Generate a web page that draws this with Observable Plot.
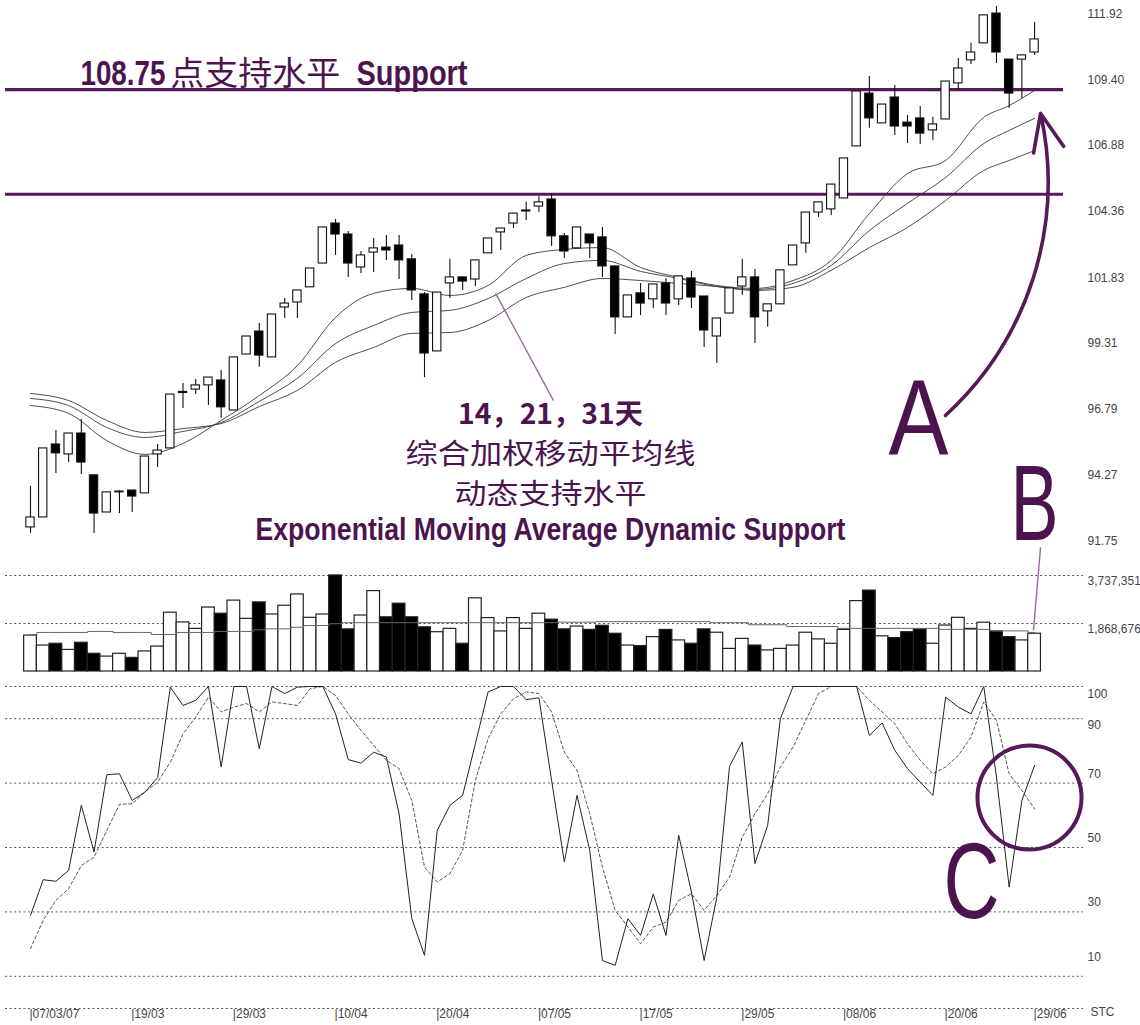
<!DOCTYPE html>
<html><head><meta charset="utf-8">
<script src="https://cdn.jsdelivr.net/npm/d3@7"></script>
<script src="https://cdn.jsdelivr.net/npm/@observablehq/plot@0.6"></script>
<style>
body{margin:0;background:#fff;}
#chart{width:1140px;height:1025px;overflow:hidden;background:#fff;}
#chart svg{display:block;}
</style></head><body><div id="chart"></div>
<script>
// ---------- data ----------
const tickIdx = [0,8,16,24,32,40,48,56,64,72,79];
const tickLabels = ["07/03/07","19/03","29/03","10/04","20/04","07/05","17/05","29/05","08/06","20/06","29/06"];

const open = [92.28,92.66,95.45,95.07,95.87,94.27,92.85,93.62,93.69,93.58,95.07,95.30,97.42,97.55,97.71,97.90,96.75,98.89,99.77,98.78,
100.69,100.88,101.46,102.37,103.90,103.48,102.22,102.79,102.98,103.06,102.53,101.19,99.01,101.61,101.84,101.76,102.76,103.56,103.90,104.36,
104.55,104.82,103.41,102.95,103.48,103.37,102.26,100.31,101.23,101.00,101.61,101.00,101.80,101.11,99.58,100.46,101.49,101.84,100.54,100.81,
102.30,103.14,104.32,104.44,104.86,106.85,108.87,107.73,108.72,107.76,107.92,107.46,107.88,109.26,110.14,110.79,111.93,110.17,110.17,110.44];
const high = [93.85,95.30,95.99,95.87,96.41,94.27,93.62,93.69,93.69,94.99,95.45,97.36,97.78,97.94,98.01,98.28,98.78,99.58,100.08,100.42,
101.03,101.34,102.18,103.75,104.06,103.60,102.83,103.33,103.44,103.44,102.72,101.26,101.26,102.53,101.84,102.49,103.33,103.71,104.28,104.71,
104.93,105.05,103.52,103.75,103.48,103.75,102.26,101.15,101.61,101.57,101.80,101.88,102.07,101.11,100.27,101.42,102.53,102.14,100.81,102.11,
103.06,104.32,104.71,105.39,106.39,108.95,109.52,108.45,109.18,108.03,108.38,107.96,109.33,110.21,110.79,111.86,112.20,110.17,110.33,111.59];
const low = [92.05,92.66,94.34,94.76,94.30,92.05,92.85,92.81,92.85,93.58,94.57,95.30,96.83,97.36,96.94,96.45,96.75,98.89,98.40,98.78,
100.27,100.27,101.46,102.37,102.68,101.84,101.99,102.03,102.49,101.76,100.96,98.01,99.01,101.03,101.34,101.49,102.76,102.87,103.71,104.02,
104.32,103.02,102.56,102.95,102.56,101.84,99.66,100.31,100.38,100.65,100.38,100.77,100.65,99.16,98.55,100.46,101.15,99.31,99.93,100.81,
102.30,102.76,104.13,104.21,104.86,106.85,107.54,107.73,107.27,106.96,106.92,107.08,107.88,108.99,109.98,110.79,110.02,108.30,108.68,110.33];
const close = [92.66,95.30,95.11,95.87,94.76,92.81,93.62,93.65,93.46,94.99,95.22,97.36,97.46,97.71,98.01,96.87,98.78,99.58,98.85,100.42,
100.84,101.34,102.18,103.75,103.48,102.37,102.68,102.95,102.87,102.49,101.34,98.93,101.26,101.84,101.68,102.49,103.33,103.71,104.28,104.40,
104.71,103.41,102.83,103.75,103.14,102.26,100.31,101.15,100.84,101.57,100.84,101.88,101.07,99.81,100.27,101.42,101.84,100.31,100.81,102.11,
103.06,104.32,104.71,105.39,106.39,108.95,107.92,108.45,107.61,107.61,107.34,107.69,109.33,109.83,110.44,111.86,110.44,108.87,110.33,110.94];

// volume in millions
const volume = [1.40,1.01,1.08,0.84,1.12,0.69,0.58,0.69,0.53,0.78,0.97,2.29,1.91,1.66,2.49,2.25,2.76,2.05,2.69,2.22,
2.56,3.00,2.09,2.22,3.74,1.64,2.18,3.13,2.11,2.64,2.11,1.72,1.53,1.66,1.08,2.85,2.08,1.56,2.08,1.66,
2.25,2.02,1.64,1.75,1.62,1.78,1.47,1.01,0.99,1.34,1.62,1.21,1.08,1.64,1.51,0.88,1.27,1.01,0.82,0.88,
1.01,1.51,1.25,1.08,1.62,2.74,3.15,1.37,1.30,1.53,1.64,1.08,1.79,2.09,1.66,1.90,1.56,1.34,1.21,1.47];
const volumeAvg = [1.44,1.52,1.52,1.52,1.52,1.56,1.56,1.52,1.52,1.52,1.44,1.44,1.52,1.52,1.52,1.56,1.56,1.56,1.62,1.66,
1.66,1.72,1.79,1.79,1.86,1.90,1.90,1.90,1.90,1.90,1.90,1.90,1.90,1.90,1.90,1.90,1.90,1.90,1.90,1.90,
1.90,1.90,1.92,1.92,1.92,1.94,1.94,1.94,1.94,1.94,1.94,1.94,1.94,1.94,1.90,1.90,1.90,1.82,1.82,1.82,
1.75,1.75,1.75,1.75,1.68,1.68,1.68,1.68,1.68,1.68,1.68,1.68,1.64,1.64,1.64,1.64,1.58,1.58,1.58,1.52];

const stochK = [28.9,40.0,39.5,42.9,63.1,48.6,72.6,72.9,64.6,67.2,71.7,99.8,94.1,95.7,100,75.0,100,100,80.7,100,
97.8,99.8,100,100,91.5,77.3,76.2,79.6,78.1,60.5,27.9,16.5,55.3,63.1,66.2,82.2,98.3,100,100,95.9,
96.5,70.8,45.5,66.2,49.1,14.9,13.4,27.9,22.7,35.6,22.7,53.8,36.2,14.9,34.6,75.2,82.8,45.0,56.9,90.0,
100,100,100,100,100,100,84.8,88.7,80.2,74.5,70.3,66.2,96.7,93.6,91.5,100,71.9,37.7,64.6,75.5];
const stochD = [18.6,27.4,33.6,37.2,44.4,47.0,55.3,63.4,63.6,67.2,70.3,76.5,85.3,90.5,96.7,92.1,93.6,94.7,92.1,95.2,
94.7,94.1,99.3,100,97.2,91.5,86.4,81.7,77.1,74.5,64.6,43.9,39.3,41.9,49.1,70.8,83.8,91.5,96.2,98.3,
97.8,92.1,79.6,73.9,60.5,43.9,30.5,25.3,20.1,25.3,26.8,33.6,35.6,30.5,35.1,40.8,53.2,60.5,66.7,75.0,
81.2,89.5,97.8,100,100,100,95.7,92.1,88.4,82.2,77.1,72.9,75.0,78.6,84.3,95.2,89.5,72.9,67.7,62.0];

// moving averages read at these bars
const emaIdx = [0,3,6,9,12,15,18,21,24,27,30,33,36,39,42,45,48,51,54,57,60,63,66,69,72,75,77,79];
const ema14 = [96.94,96.64,95.60,95.07,95.49,96.37,97.32,98.47,100.31,101.23,101.42,101.15,101.53,102.68,102.91,102.98,102.22,101.84,101.53,101.42,101.72,102.49,104.28,105.81,106.31,107.96,108.41,108.99];
const ema21 = [97.21,96.94,96.10,95.72,95.95,96.29,97.10,97.98,99.31,100.00,100.50,100.58,101.03,101.80,102.37,102.49,102.07,101.80,101.49,101.38,101.61,102.30,103.63,104.67,105.66,106.96,107.46,107.92];
const ema31 = [97.40,97.13,96.37,95.91,96.06,96.25,96.90,97.52,98.59,99.16,99.70,99.73,100.19,101.07,101.46,101.80,101.72,101.61,101.49,101.34,101.46,102.11,102.98,103.75,104.78,105.93,106.31,106.69];

const priceTicks = [111.92,109.40,106.88,104.36,101.83,99.31,96.79,94.27,91.75];
const supportLevels = [109.02,105.02];
const volTicks = [3737351,1868676];
const stochGrid = [100,90,70,50,30,10,0];
const stochLabels = ["100","90","70","50","30","10"];
const stochLabelAt = [97.5,87.9,72.7,52.8,32.9,15.8];

// annotation anchors (bar index, value)
const supportText = [
  {t:"108.75", i:3.93, p:109.18, w:"bold", f:"lat"},
  {t:"点支持水平", i:11.0, p:109.18, w:"normal", f:"cjk"},
  {t:"Support", i:25.65, p:109.18, w:"bold", f:"lat"}
];
const noteLines = [
  {t:"14，21，31天", i:40.91, p:96.22, w:"bold", f:"cjk"},
  {t:"综合加权移动平均线", i:40.91, p:94.72, w:"normal", f:"cjk"},
  {t:"动态支持水平", i:40.91, p:93.19, w:"normal", f:"cjk"},
  {t:"Exponential Moving Average Dynamic Support", i:40.91, p:91.78, w:"bold", f:"lat"}
];
const emaLeader = [{i1:36.59, p1:101.23, i2:41.15, p2:97.13}];
const letterA = [{t:"A", i:69.87, p:95.03}];
const arrowA = [{i1:71.99, p1:96.56, i2:79.47, p2:108.11}];
const letterB = [{t:"B", i:79.0, p:91.78}];
const bLeader = [{i1:79.47, v1:4.83e6, i2:78.91, v2:1.60e6}];
const letterC = [{t:"C", i:74.04, v:27.95}];
const circleC = [{i:78.6, v:65.5}];

// ---------- build ----------
const bars = d3.range(open.length).map(i => ({
  i, o: open[i], h: high[i], l: low[i], c: close[i],
  bodyLo: Math.min(open[i], close[i]), bodyHi: Math.max(open[i], close[i]),
  col: close[i] >= open[i] ? "#ffffff" : "#000000",
  v: volume[i] * 1e6, ma: volumeAvg[i] * 1e6, k: stochK[i], d: stochD[i]
}));
const emaRows = emaIdx.map((i, j) => ({i, e14: ema14[j], e21: ema21[j], e31: ema31[j]}));

const PX0 = 30, STEP = 12.71;
const xDom = (l, r) => [(l - PX0) / STEP, (r - PX0) / STEP];
const purple = "#58195b";
const textPurple = "#4c144f";
const leader = "#9a6a9e";
const LAT = "'Liberation Sans Narrow','Arial Narrow','Liberation Sans',Arial,sans-serif";
const CJK = "'Noto Sans CJK SC','Noto Sans CJK TC',sans-serif";
const baseStyle = {background: "transparent", overflow: "visible", fontFamily: "'Liberation Sans',Arial,sans-serif"};

const price = Plot.plot({
  width: 1140, height: 560, marginLeft: 5, marginRight: 77, marginTop: 0, marginBottom: 0,
  style: baseStyle,
  x: {type: "linear", domain: xDom(5, 1063), axis: null},
  y: {domain: [91.014, 112.429], axis: null},
  marks: [
    Plot.ruleY(supportLevels, {stroke: purple, strokeWidth: 3.2}),
    Plot.line(emaRows, {x: "i", y: "e14", curve: "monotone-x", stroke: "#3a3a3a", strokeWidth: 0.9}),
    Plot.line(emaRows, {x: "i", y: "e21", curve: "monotone-x", stroke: "#3a3a3a", strokeWidth: 0.9}),
    Plot.line(emaRows, {x: "i", y: "e31", curve: "monotone-x", stroke: "#3a3a3a", strokeWidth: 0.9}),
    Plot.ruleX(bars, {x: "i", y1: "l", y2: "h", stroke: "#111", strokeWidth: 1.1}),
    Plot.rect(bars, {x1: d => d.i - 0.5, x2: d => d.i + 0.5, y1: "bodyLo", y2: "bodyHi", insetLeft: 2.2, insetRight: 2.2,
      fill: "col", stroke: "#111", strokeWidth: 1.1}),
    Plot.axisY(priceTicks, {anchor: "right", tickFormat: d => d.toFixed(2), tickSize: 0, tickPadding: 24,
      textAnchor: "start", fontSize: 12, color: "#444", label: null}),
    Plot.link(emaLeader, {x1: "i1", y1: "p1", x2: "i2", y2: "p2", stroke: leader, strokeWidth: 1.4}),
    ...supportText.map(d => Plot.text([d], {x: "i", y: "p", text: "t", textAnchor: "start", lineAnchor: "bottom",
      fontSize: d.f === "cjk" ? 33 : 35, fontWeight: d.w, fontFamily: d.f === "cjk" ? CJK : LAT, fill: textPurple})),
    ...noteLines.map(d => Plot.text([d], {x: "i", y: "p", text: "t", textAnchor: "middle", lineAnchor: "bottom",
      fontSize: d.f === "cjk" ? 28 : 31, fontWeight: d.w, fontFamily: d.f === "cjk" ? CJK : LAT, fill: textPurple})),
    Plot.text(letterA, {x: "i", y: "p", text: "t", textAnchor: "middle", lineAnchor: "bottom", fontSize: 107, fontFamily: LAT, fill: textPurple}),
    Plot.text(letterB, {x: "i", y: "p", text: "t", textAnchor: "middle", lineAnchor: "bottom", fontSize: 107, fontFamily: LAT, fill: textPurple}),
    Plot.arrow(arrowA, {x1: "i1", y1: "p1", x2: "i2", y2: "p2", bend: -30, stroke: purple, strokeWidth: 3.6, headLength: 16.7, headAngle: 45})
  ]
});

const vol = Plot.plot({
  width: 1140, height: 120, marginLeft: 5, marginRight: 57, marginTop: 0, marginBottom: 0,
  style: baseStyle,
  x: {type: "linear", domain: xDom(5, 1083), axis: null},
  y: {domain: [-350379, 4321341], axis: null},
  marks: [
    Plot.ruleY(volTicks, {stroke: "#555", strokeDasharray: "2,2.6", strokeWidth: 1}),
    Plot.rectY(bars, {x1: d => d.i - 0.5, x2: d => d.i + 0.5, y1: 0, y2: "v", fill: "col", stroke: "#222", strokeWidth: 1.2}),
    Plot.line(bars, {x: "i", y: "ma", curve: "step", stroke: "#666", strokeWidth: 1}),
    Plot.axisY(volTicks, {anchor: "right", tickFormat: d3.format(","), tickSize: 0, tickPadding: 4, textAnchor: "start",
      fontSize: 12, color: "#444", dy: 6, label: null}),
    Plot.link(bLeader, {x1: "i1", y1: "v1", x2: "i2", y2: "v2", stroke: leader, strokeWidth: 1.4})
  ]
});

const stoch = Plot.plot({
  width: 1140, height: 345, marginLeft: 5, marginRight: 57, marginTop: 0, marginBottom: 0,
  style: baseStyle,
  x: {type: "linear", domain: xDom(5, 1083), axis: null},
  y: {domain: [-5.28, 101.863], axis: null},
  marks: [
    Plot.ruleY(stochGrid, {stroke: "#555", strokeDasharray: "2,2.6", strokeWidth: 1}),
    Plot.line(bars, {x: "i", y: "d", stroke: "#555", strokeDasharray: "3,2.5", strokeWidth: 1}),
    Plot.line(bars, {x: "i", y: "k", stroke: "#222", strokeWidth: 1}),
    Plot.text(stochLabels, {y: (d, j) => stochLabelAt[j], text: d => d, frameAnchor: "right", textAnchor: "start",
      dx: 4, fontSize: 12, fill: "#444"}),
    Plot.text(tickIdx, {x: d => d, y: () => -1.9, text: (d, j) => "|" + tickLabels[j], textAnchor: "start", dx: -1,
      fontSize: 12, fill: "#444"}),
    Plot.text(["STC"], {frameAnchor: "bottom-right", text: d => d, textAnchor: "start", dx: 7, dy: -10, fontSize: 12, fill: "#444"}),
    Plot.dot(circleC, {x: "i", y: "v", r: 52, stroke: purple, strokeWidth: 4, fill: "none"}),
    Plot.text(letterC, {x: "i", y: "v", text: "t", textAnchor: "middle", lineAnchor: "bottom", fontSize: 107, fontFamily: LAT, fill: textPurple})
  ]
});

const chart = document.getElementById("chart");
chart.append(price, vol, stoch);

// stretch annotation texts to the widths seen in the reference
const fit = new Map([["108.75",85],["点支持水平",170],["Support",111],["14，21，31天",185],["综合加权移动平均线",290],
  ["动态支持水平",192],["Exponential Moving Average Dynamic Support",590],["A",60],["B",48],["C",56]]);
for (const svg of [price, vol, stoch]) {
  d3.select(svg).selectAll("text").each(function() {
    const w = fit.get(this.textContent);
    if (w) { this.setAttribute("textLength", w); this.setAttribute("lengthAdjust", "spacingAndGlyphs"); }
  });
}
</script></body></html>
